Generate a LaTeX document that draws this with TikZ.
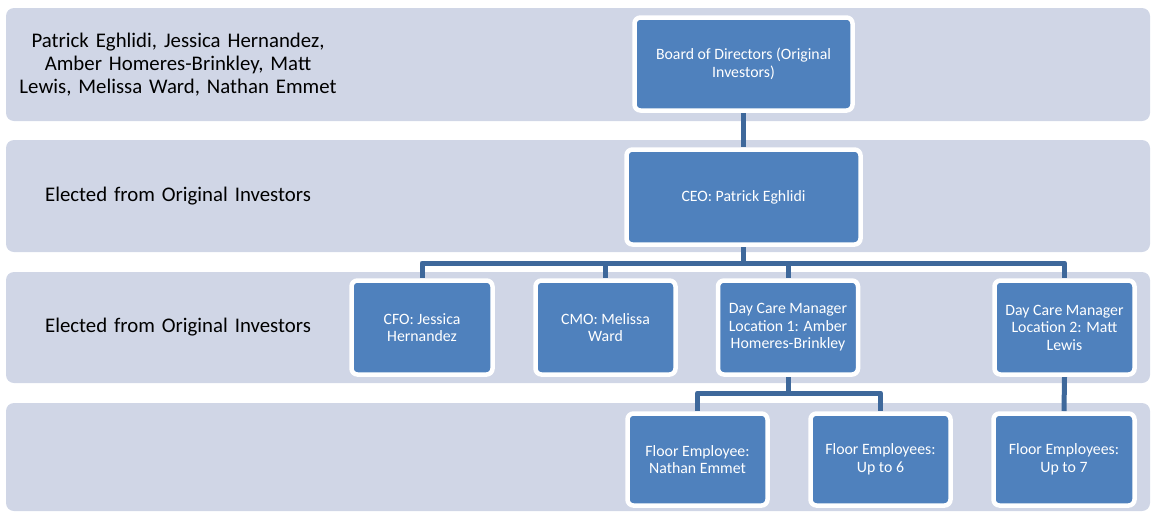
\documentclass[tikz,border=0pt]{standalone}
\usepackage{fontspec}
\setmainfont{Carlito}
\usetikzlibrary{backgrounds}
\definecolor{bandgray}{RGB}{208,214,230}
\definecolor{boxblue}{RGB}{79,129,189}
\definecolor{linkblue}{RGB}{62,104,155}
\begin{document}
\begin{tikzpicture}[
        x=1pt, y=-1pt,
        band/.style={fill=bandgray, draw=none, rounded corners=8pt},
        bandtext/.style={text width=340pt, align=center, inner sep=0pt, font=\fontsize{20.8}{23}\selectfont},
        role/.style={draw=white, line width=4.5pt, fill=boxblue, rounded corners=6pt, text=white,
            align=center, inner sep=0pt, font=\fontsize{15.8}{17.5}\selectfont},
        link/.style={draw=linkblue, line width=5pt, line join=round},
    ]
    \useasboundingbox (0,0) rectangle (1151,512);
    % boxes
    \node[role, minimum width=218pt, minimum height=93pt](board) at (743.5,64){Board of Directors (Original\\Investors)};
    \node[role, minimum width=234pt, minimum height=95pt](ceo) at (743.5,197){CEO: Patrick Eghlidi};
    \node[role, minimum width=141pt, minimum height=94pt](cfo) at (422,327.5){CFO: Jessica\\Hernandez};
    \node[role, minimum width=140pt, minimum height=94pt](cmo) at (605.5,327.5){CMO: Melissa\\Ward};
    \node[role, minimum width=140pt, minimum height=94pt](dcm1) at (788,327.5){Day Care Manager\\Location 1: Amber\\Homeres-Brinkley};
    \node[role, minimum width=140pt, minimum height=94pt](dcm2) at (1064.5,327.5){Day Care Manager\\Location 2: Matt\\Lewis};
    \node[role, minimum width=140pt, minimum height=92pt](fe1) at (697.5,459.5){Floor Employee:\\Nathan Emmet};
    \node[role, minimum width=140pt, minimum height=92pt](fe2) at (880.5,459.5){Floor Employees:\\Up to 6};
    \node[role, minimum width=141pt, minimum height=92pt](fe3) at (1064,459.5){Floor Employees:\\Up to 7};
    % left column
    \node[bandtext](who) at (178,64.5){Patrick Eghlidi, Jessica Hernandez,\\Amber Homeres-Brinkley, Matt\\Lewis, Melissa Ward, Nathan Emmet};
    \node[bandtext](elect1) at (178,196){Elected from Original Investors};
    \node[bandtext](elect2) at (178,327.5){Elected from Original Investors};
    \coordinate (bus) at (743.5,263);
    \coordinate (subbus) at (788,393);
    \begin{pgfonlayer}{background}
        \fill[band] (6,8) rectangle (1150,121);
        \fill[band] (6,140) rectangle (1150,252);
        \fill[band] (6,272) rectangle (1150,383);
        \fill[band] (6,403) rectangle (1150,511);
        \draw[link] (board.south) -- (ceo.north);
        \foreach \c in {cfo,cmo,dcm1,dcm2}
            \draw[link] (ceo.south) -- (bus) -| (\c.north);
        \foreach \c in {fe1,fe2}
            \draw[link] (dcm1.south) -- (subbus) -| (\c.north);
        \draw[link] (dcm2.south) -- (fe3.north);
    \end{pgfonlayer}
\end{tikzpicture}
\end{document}
